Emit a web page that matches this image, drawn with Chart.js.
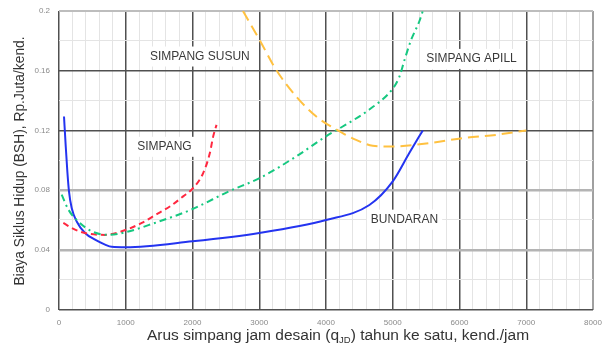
<!DOCTYPE html>
<html>
<head>
<meta charset="utf-8">
<script src="https://cdn.jsdelivr.net/npm/chart.js@4.4.1/dist/chart.umd.min.js"></script>
<style>
  html, body { margin: 0; padding: 0; background: #fff; }
  #wrap { width: 603px; height: 347px; }
</style>
</head>
<body>
<div id="wrap"><canvas id="lccChart" width="603" height="347"></canvas></div>
<script>
    // values (x = kend./jam, y = Rp.Juta/kend.)
    const bundaranX = [75, 100, 125, 150, 190, 265, 390, 540, 690, 790, 1000, 2000, 3000, 4000, 4650, 5000, 5250, 5450];
    const bundaranY = [0.1293, 0.110, 0.0925, 0.079, 0.068, 0.059, 0.0513, 0.0468, 0.0435, 0.042, 0.0417, 0.0457, 0.0513, 0.060, 0.070, 0.0858, 0.105, 0.120];

    const simpangX = [65, 240, 440, 690, 940, 1240, 1450, 1660, 1860, 2010, 2160, 2260, 2310, 2360];
    const simpangY = [0.058, 0.0535, 0.0508, 0.050, 0.0524, 0.058, 0.0635, 0.069, 0.0758, 0.0814, 0.0914, 0.1048, 0.116, 0.1237];

    const apillX = [40, 140, 265, 490, 740, 990, 1435, 1985, 2560, 3005, 3555, 4000, 4250, 4650, 5000, 5100, 5175, 5275, 5400, 5450];
    const apillY = [0.077, 0.067, 0.060, 0.0524, 0.050, 0.0517, 0.058, 0.067, 0.0795, 0.088, 0.1026, 0.116, 0.1226, 0.134, 0.148, 0.156, 0.167, 0.1806, 0.1933, 0.200];

    const susunX = [2756, 3005, 3255, 3555, 3855, 4250, 4450, 4700, 4950, 5550, 6045, 6545, 7000];
    const susunY = [0.200, 0.1806, 0.1605, 0.1427, 0.1293, 0.1182, 0.1137, 0.1097, 0.1092, 0.1115, 0.1148, 0.117, 0.120];

    const xTickValues = [0, 1000, 2000, 3000, 4000, 5000, 6000, 7000, 8000];
    const yTickValues = ['0', '0.04', '0.08', '0.12', '0.16', '0.2'];

    const curveLabels = [
        { text: 'SIMPANG SUSUN', x: 2110, y: 0.1695 },
        { text: 'SIMPANG APILL', x: 6180, y: 0.1679 },
        { text: 'SIMPANG', x: 1580, y: 0.109 },
        { text: 'BUNDARAN', x: 5176, y: 0.0602 }
    ];

    function toPoints(xs, ys) {
        return xs.map((x, i) => ({ x: x, y: ys[i] }));
    }

    function lineSet(label, xs, ys, color, dash) {
        return {
            label: label,
            data: toPoints(xs, ys),
            borderColor: color,
            backgroundColor: color,
            borderWidth: 2,
            borderDash: dash,
            pointRadius: 0,
            cubicInterpolationMode: 'monotone',
            fill: false,
            showLine: true
        };
    }

    const FONT = '"Liberation Sans", Arial, sans-serif';

    // white-boxed curve names + axis titles (x title needs a subscript)
    const annotationPlugin = {
        id: 'annotations',
        afterDatasetsDraw(chart) {
            const c = chart.ctx;
            const xs = chart.scales.x, ys = chart.scales.y;
            c.save();
            c.font = '12px ' + FONT;
            c.textAlign = 'center';
            c.textBaseline = 'middle';
            curveLabels.forEach(l => {
                const px = xs.getPixelForValue(l.x);
                const py = ys.getPixelForValue(l.y);
                const w = c.measureText(l.text).width;
                c.fillStyle = '#fff';
                c.fillRect(px - w / 2 - 4, py - 10, w + 8, 20);
                c.fillStyle = '#3a3a3a';
                c.fillText(l.text, px, py);
            });
            c.restore();
        },
        afterDraw(chart) {
            const c = chart.ctx;
            c.save();
            c.fillStyle = '#333';
            // y title
            c.font = '13.8px ' + FONT;
            c.translate(20, 161);
            c.rotate(-Math.PI / 2);
            c.textAlign = 'center';
            c.textBaseline = 'middle';
            c.fillText('Biaya Siklus Hidup (BSH), Rp.Juta/kend.', 0, 0);
            c.setTransform(1, 0, 0, 1, 0, 0);
            // x title with subscript
            const parts = [
                { t: 'Arus simpang jam desain (q', size: 15.5, dy: 0 },
                { t: 'JD', size: 9.5, dy: 3 },
                { t: ') tahun ke satu, kend./jam', size: 15.5, dy: 0 }
            ];
            let total = 0;
            parts.forEach(p => { c.font = p.size + 'px ' + FONT; p.w = c.measureText(p.t).width; total += p.w; });
            let x = 338 - total / 2;
            c.textAlign = 'left';
            c.textBaseline = 'alphabetic';
            parts.forEach(p => {
                c.font = p.size + 'px ' + FONT;
                c.fillText(p.t, x, 340 + p.dy);
                x += p.w;
            });
            c.restore();
        }
    };

    function isMajorX(v) { return Math.round(v) % 1000 === 0; }
    function yKey(v) { return Math.round(v * 100); }

    const chart = new Chart(document.getElementById('lccChart').getContext('2d'), {
        type: 'scatter',
        data: {
            datasets: [
                lineSet('Simpang Susun', susunX, susunY, 'rgb(255,193,64)', [11, 6]),
                lineSet('Simpang APILL', apillX, apillY, 'rgb(22,200,128)', [7, 4, 2, 4]),
                lineSet('Simpang', simpangX, simpangY, 'rgb(255,40,64)', [6, 4]),
                lineSet('Bundaran', bundaranX, bundaranY, 'rgb(36,52,240)', [])
            ]
        },
        options: {
            responsive: false,
            animation: false,
            layout: { padding: { left: 0, top: 11, right: 10, bottom: 0 } },
            plugins: {
                legend: { display: false },
                tooltip: { enabled: false }
            },
            scales: {
                x: {
                    type: 'linear',
                    min: 0,
                    max: 8000,
                    afterFit: scale => {
                        scale.height = 37.5;
                        scale.paddingLeft = 0;
                        scale.paddingRight = 0;
                    },
                    border: { display: false },
                    grid: {
                        drawTicks: false,
                        color: ctx => {
                            const v = ctx.tick.value;
                            if (v === 8000) return '#a0a0a0';
                            return isMajorX(v) ? '#505050' : '#e4e4e4';
                        },
                        lineWidth: ctx => {
                            const v = ctx.tick.value;
                            if (v === 8000) return 2;
                            return isMajorX(v) ? 1.5 : 1;
                        }
                    },
                    ticks: {
                        stepSize: 200,
                        autoSkip: false,
                        maxRotation: 0,
                        padding: 8,
                        color: '#8a8a8a',
                        font: { size: 8, family: FONT },
                        callback: function(value) {
                            return xTickValues.includes(Math.round(value)) ? String(Math.round(value)) : '';
                        }
                    }
                },
                y: {
                    type: 'linear',
                    min: 0,
                    max: 0.2,
                    afterFit: scale => {
                        scale.width = 59;
                        scale.paddingTop = 0;
                        scale.paddingBottom = 0;
                    },
                    border: { display: false },
                    grid: {
                        drawTicks: false,
                        color: ctx => {
                            const k = yKey(ctx.tick.value);
                            if (k === 20) return '#bdbdbd';
                            if (k === 4 || k === 8) return '#b4b4b4';
                            return k % 4 === 0 ? '#505050' : '#e4e4e4';
                        },
                        lineWidth: ctx => {
                            const k = yKey(ctx.tick.value);
                            if (k === 20) return 2;
                            if (k === 4 || k === 8) return 2.5;
                            return k % 4 === 0 ? 1.5 : 1;
                        }
                    },
                    ticks: {
                        stepSize: 0.02,
                        autoSkip: false,
                        padding: 9,
                        color: '#8a8a8a',
                        font: { size: 8, family: FONT },
                        callback: function(value) {
                            const s = String(yKey(value) / 100);
                            return yTickValues.includes(s) ? s : '';
                        }
                    }
                }
            }
        },
        plugins: [annotationPlugin]
    });
</script>
</body>
</html>
